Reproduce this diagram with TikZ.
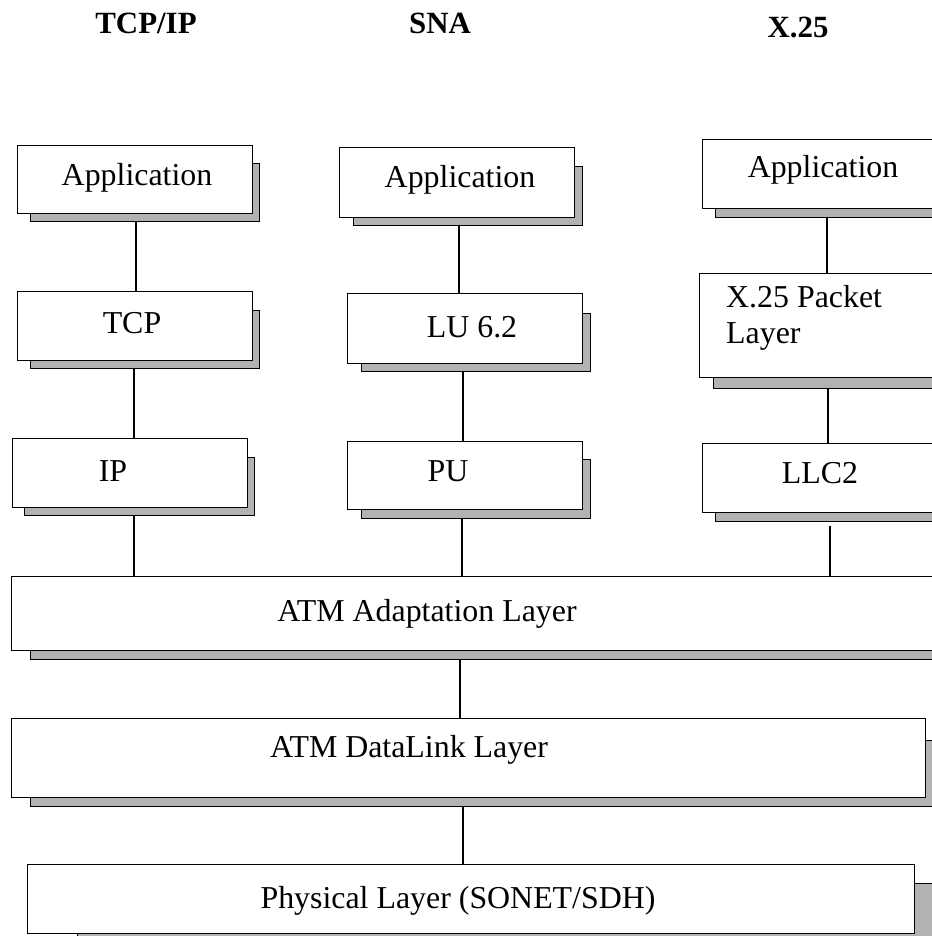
\documentclass[tikz,border=0pt]{standalone}
\usepackage{fontspec}
\setmainfont{Liberation Serif}
\definecolor{shadowgray}{RGB}{178,178,178}
\begin{document}
\begin{tikzpicture}[x=1bp,y=-1bp,
  layerbox/.style={draw=black,fill=white,line width=1.4bp,inner sep=0pt,anchor=north west},
  dropshadow/.style={draw=black,fill=shadowgray,line width=1.4bp,inner sep=0pt,anchor=north west},
  label text/.style={font=\fontsize{32}{36}\selectfont,inner sep=0pt,anchor=base},
  title text/.style={font=\fontsize{31}{36}\selectfont\bfseries,inner sep=0pt,anchor=base},
  link/.style={line width=2.6bp}]
\useasboundingbox (0,0) rectangle (932,936);
\clip (0,0) rectangle (932,936);

% stack headings
\node[title text] (hTCP) at (146,33) {TCP/IP};
\node[title text] (hSNA) at (440,33) {SNA};
\node[title text] (hX) at (798,37) {X.25};

% column positions for the connectors
\coordinate (cA1) at (136,0);
\coordinate (cA2) at (134,0);
\coordinate (cB1) at (459,0);
\coordinate (cB2) at (463,0);
\coordinate (cB3) at (462,0);
\coordinate (cC1) at (827,0);
\coordinate (cC2) at (828,0);
\coordinate (cC3) at (830,0);
\coordinate (cM1) at (460,0);
\coordinate (cM2) at (463,0);

% TCP/IP stack
\node[dropshadow,minimum width=229bp,minimum height=58bp] (app1s) at (30,163) {};
\node[layerbox,minimum width=235bp,minimum height=68bp] (app1) at (17,145) {};
\node[label text] (app1t) at (137,185) {Application};
\node[dropshadow,minimum width=229bp,minimum height=58bp] (tcps) at (30,310) {};
\node[layerbox,minimum width=235bp,minimum height=69bp] (tcp) at (17,291) {};
\node[label text] (tcpt) at (132,333) {TCP};
\node[dropshadow,minimum width=230bp,minimum height=58bp] (ips) at (24,457) {};
\node[layerbox,minimum width=235bp,minimum height=69bp] (ip) at (12,438) {};
\node[label text] (ipt) at (113,481) {IP};

% SNA stack
\node[dropshadow,minimum width=229bp,minimum height=59bp] (app2s) at (353,166) {};
\node[layerbox,minimum width=235bp,minimum height=70bp] (app2) at (339,147) {};
\node[label text] (app2t) at (460,187) {Application};
\node[dropshadow,minimum width=229bp,minimum height=58bp] (lus) at (361,313) {};
\node[layerbox,minimum width=235bp,minimum height=70bp] (lu) at (347,293) {};
\node[label text] (lut) at (472,337) {LU 6.2};
\node[dropshadow,minimum width=229bp,minimum height=59bp] (pus) at (361,459) {};
\node[layerbox,minimum width=235bp,minimum height=68bp] (pu) at (347,441) {};
\node[label text] (put) at (448,481) {PU};

% X.25 stack
\node[dropshadow,minimum width=229bp,minimum height=60bp] (app3s) at (715,157) {};
\node[layerbox,minimum width=235bp,minimum height=69bp] (app3) at (702,139) {};
\node[label text] (app3t) at (823,177) {Application};
\node[dropshadow,minimum width=228bp,minimum height=97bp] (x25s) at (713,291) {};
\node[layerbox,minimum width=235bp,minimum height=104bp] (x25) at (699,273) {};
\node[label text,align=left,anchor=north west] (x25t) at (726,285) {X.25 Packet\\Layer};
\node[dropshadow,minimum width=229bp,minimum height=60bp] (llc2s) at (715,461) {};
\node[layerbox,minimum width=235bp,minimum height=69bp] (llc2) at (702,443) {};
\node[label text] (llc2t) at (820,483) {LLC2};

% common ATM layers
\node[dropshadow,minimum width=930bp,minimum height=65bp] (aals) at (30,594) {};
\node[layerbox,minimum width=940bp,minimum height=74bp] (aal) at (11,576) {};
\node[label text] (aalt) at (427,621) {ATM Adaptation Layer};
\node[dropshadow,minimum width=914bp,minimum height=66bp] (dls) at (30,740) {};
\node[layerbox,minimum width=914bp,minimum height=79bp] (dl) at (11,718) {};
\node[label text] (dlt) at (409,757) {ATM DataLink Layer};
\node[dropshadow,minimum width=887bp,minimum height=72bp] (phys) at (77,883) {};
\node[layerbox,minimum width=887bp,minimum height=69bp] (phy) at (27,864) {};
\node[label text] (phyt) at (458,908) {Physical Layer (SONET/SDH)};

% connectors
\draw[link] (app1s.south -| cA1) -- (tcp.north -| cA1);
\draw[link] (tcps.south -| cA2) -- (ip.north -| cA2);
\draw[link] (ips.south -| cA2) -- (aal.north -| cA2);
\draw[link] (app2s.south -| cB1) -- (lu.north -| cB1);
\draw[link] (lus.south -| cB2) -- (pu.north -| cB2);
\draw[link] (pus.south -| cB3) -- (aal.north -| cB3);
\draw[link] (app3s.south -| cC1) -- (x25.north -| cC1);
\draw[link] (x25s.south -| cC2) -- (llc2.north -| cC2);
\draw[link] ([yshift=-4bp]llc2s.south -| cC3) -- (aal.north -| cC3);
\draw[link] (aals.south -| cM1) -- (dl.north -| cM1);
\draw[link] (dls.south -| cM2) -- (phy.north -| cM2);
\end{tikzpicture}
\end{document}
